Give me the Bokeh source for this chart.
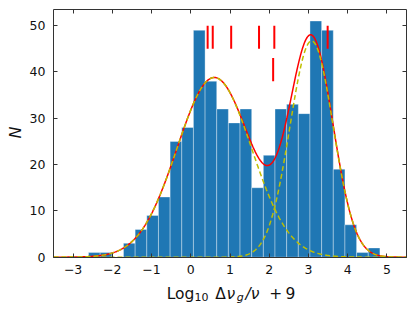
import numpy as np
from bokeh.plotting import figure
from bokeh.models import Range1d, FixedTicker, LinearAxis, Label, ColumnDataSource
from bokeh.embed import file_html
from bokeh.resources import INLINE

# ---- data ----
bin_lo = -2.607
bin_hi = 4.822
counts = [1, 1, 0, 3, 6, 9, 13, 25, 28, 49, 38, 32, 29, 32, 15, 22, 32, 33, 31, 51, 49, 19, 7, 1, 2]

# two-component Gaussian fit parameters (amplitude, centre, width)
amp1, mu1, sig1 = 38.8, 0.60, 0.95
amp2, mu2, sig2 = 46.7, 3.08, 0.55

# red marker segments at top
mark_x = [0.43, 0.56, 1.03, 1.74, 2.13, 3.49]
mark_y0 = [45, 45, 45, 45, 45, 45]
mark_y1 = [50, 50, 50, 50, 50, 50]
low_mark_x = [2.10]
low_mark_y0 = [38]
low_mark_y1 = [43]

x_ticks = [-3, -2, -1, 0, 1, 2, 3, 4, 5]
y_ticks = [0, 10, 20, 30, 40, 50]

# visible axes box
X0, X1 = -3.5, 5.5
Y0, Y1 = 0.0, 53.55

W, H = 415, 311
BOX_L, BOX_R, BOX_T, BOX_B = 53.0, 406.0, 8.7, 256.7   # pixel position of the axes box
sx = (BOX_R - BOX_L) / (X1 - X0)
sy = (BOX_B - BOX_T) / (Y1 - Y0)

FONT = "DejaVu Sans"

p = figure(width=W, height=H, output_backend="svg", toolbar_location=None,
           x_range=Range1d(X0 - BOX_L / sx, X1 + (W - BOX_R) / sx),
           y_range=Range1d(Y0 - (H - BOX_B) / sy, Y1 + BOX_T / sy),
           min_border_left=0, min_border_right=0, min_border_top=0, min_border_bottom=0,
           x_axis_location=None, y_axis_location=None)
p.xgrid.visible = False
p.ygrid.visible = False
p.outline_line_color = None
p.background_fill_color = "white"
p.border_fill_color = "white"

edges = np.linspace(bin_lo, bin_hi, len(counts) + 1)
src = ColumnDataSource(dict(left=edges[:-1], right=edges[1:], top=counts, bottom=[0] * len(counts)))
p.quad(left="left", right="right", top="top", bottom="bottom", source=src,
       fill_color="#1f77b4", line_color="white", line_alpha=0.35, line_width=1)

xs = np.linspace(X0, X1, 600)
g1 = amp1 * np.exp(-(xs - mu1) ** 2 / (2 * sig1 ** 2))
g2 = amp2 * np.exp(-(xs - mu2) ** 2 / (2 * sig2 ** 2))
p.line(xs, g1 + g2, line_color="#ff0000", line_width=1.5)
p.line(xs, g1, line_color="#bfbf00", line_width=1.5, line_dash="5 3")
p.line(xs, g2, line_color="#bfbf00", line_width=1.5, line_dash="5 3")

p.segment(x0=mark_x, x1=mark_x, y0=mark_y0, y1=mark_y1, line_color="#ff0000", line_width=2)
p.segment(x0=low_mark_x, x1=low_mark_x, y0=low_mark_y0, y1=low_mark_y1, line_color="#ff0000", line_width=2)

bottom_ax = LinearAxis(ticker=FixedTicker(ticks=x_ticks), fixed_location=Y0, bounds=(X0, X1))
top_ax = LinearAxis(ticker=FixedTicker(ticks=x_ticks), fixed_location=Y1, bounds=(X0, X1))
left_ax = LinearAxis(ticker=FixedTicker(ticks=y_ticks), fixed_location=X0, bounds=(Y0, Y1))
right_ax = LinearAxis(ticker=FixedTicker(ticks=y_ticks), fixed_location=X1, bounds=(Y0, Y1))
p.add_layout(bottom_ax, "below")
p.add_layout(top_ax, "above")
p.add_layout(left_ax, "left")
p.add_layout(right_ax, "right")

for ax in [bottom_ax, left_ax, top_ax, right_ax]:
    ax.major_tick_in = 4
    ax.major_tick_out = 0
    ax.minor_tick_in = 0
    ax.minor_tick_out = 0
    ax.axis_line_color = "#333333"
    ax.major_tick_line_color = "#333333"
    ax.major_label_text_font = FONT
    ax.major_label_text_font_size = "12.5px"
    ax.major_label_text_color = "#111111"
    ax.major_label_standoff = 8

for ax in [top_ax, right_ax]:
    ax.major_label_text_font_size = "0px"
    ax.major_label_text_color = None
    ax.major_label_standoff = 0

bottom_ax.major_label_overrides = {t: str(t).replace("-", "\u2212") for t in x_ticks}

# x-axis label built from pieces (with subscripts); screen units, y measured up from canvas bottom
BASE = H - 293.5
SUB = H - 296.5
BIG = "15.5px"
SMALL = "11px"
pieces = [
    ("Log", 166.2, BASE, BIG, "normal"),
    ("10", 194.0, SUB, SMALL, "normal"),
    ("\u0394", 214.8, BASE, BIG, "normal"),
    ("\u03bd", 226.0, BASE, BIG, "italic"),
    ("g", 236.3, SUB, SMALL, "italic"),
    ("/\u03bd", 245.0, BASE, BIG, "italic"),
    ("+\u20099", 268.8, BASE, BIG, "normal"),
]
for txt, x, y, size, style in pieces:
    p.add_layout(Label(x=x, y=y, x_units="screen", y_units="screen", text=txt,
                       text_font=FONT, text_font_size=size, text_font_style=style,
                       text_color="#111111", text_baseline="alphabetic", text_align="left"))

p.add_layout(Label(x=15, y=H - 132, x_units="screen", y_units="screen", text="N", angle=np.pi / 2,
                   text_font=FONT, text_font_size="16px", text_font_style="italic",
                   text_color="#111111", text_baseline="middle", text_align="center"))

open("out.html", "w").write(file_html(p, INLINE))
